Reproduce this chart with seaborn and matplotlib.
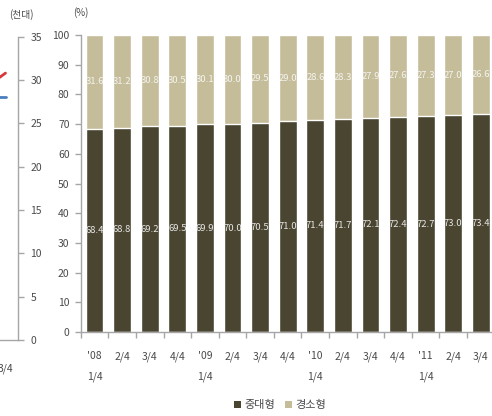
import matplotlib
matplotlib.use("Agg")
import matplotlib.pyplot as plt
from matplotlib.patches import Patch
from matplotlib.ticker import FixedLocator
import seaborn as sns
import pandas as pd

# Quarterly share of passenger cars by size class (%)
quarters = ["'08\n1/4", "2/4", "3/4", "4/4", "'09\n1/4", "2/4", "3/4", "4/4",
            "'10\n1/4", "2/4", "3/4", "4/4", "'11\n1/4", "2/4", "3/4"]
mid_large = [68.4, 68.8, 69.2, 69.5, 69.9, 70.0, 70.5, 71.0,
             71.4, 71.7, 72.1, 72.4, 72.7, 73.0, 73.4]
light_small = [31.6, 31.2, 30.8, 30.5, 30.1, 30.0, 29.5, 29.0,
               28.6, 28.3, 27.9, 27.6, 27.3, 27.0, 26.6]
series_names = ["중대형", "경소형"]

# Tail of the neighbouring panel (thousand units)
left_quarters = ["2/4", "3/4"]
left_red = [28.7, 30.8]
left_blue = [28.0, 28.0]
left_ticks = [0, 5, 10, 15, 20, 25, 30, 35]

DARK = "#4a4530"
TAN = "#c5bd9a"
AXIS = "#a6a6a6"
TXT = "#4a4a4a"

sns.set_theme(style="white")
plt.rcParams["font.family"] = ["Noto Sans CJK KR", "DejaVu Sans"]

W, H = 492, 416
fig = plt.figure(figsize=(W / 100, H / 100), dpi=100)
fig.patch.set_facecolor("white")

def px_box(x0, y_top, x1, y_bot):
    return [x0 / W, 1 - y_bot / H, (x1 - x0) / W, (y_bot - y_top) / H]

# ---- main stacked 100% bar chart ----
ax = fig.add_axes(px_box(80.7, 35, 494.7, 332))
df = pd.DataFrame({
    "q": range(len(quarters)),
    "total": [a + b for a, b in zip(mid_large, light_small)],
    "mid": mid_large,
})
sns.barplot(data=df, x="q", y="total", color=TAN, saturation=1, width=0.64,
            ax=ax, native_scale=False)
sns.barplot(data=df, x="q", y="mid", color=DARK, saturation=1, width=0.64,
            ax=ax, native_scale=False)

for i, (m, s) in enumerate(zip(mid_large, light_small)):
    ax.text(i, m / 2, f"{m:.1f}", ha="center", va="center",
            fontsize=6.8, color="#e6e6e6")
    ax.text(i, m + s / 2, f"{s:.1f}", ha="center", va="center",
            fontsize=6.8, color="#f4f4f0")

ax.set_xlim(-0.5, len(quarters) - 0.5)
ax.set_ylim(0, 100)
ax.set_yticks(range(0, 101, 10))
ax.set_xticks(range(len(quarters)))
ax.set_xticklabels(quarters, linespacing=2.3)
ax.xaxis.set_minor_locator(FixedLocator([i + 0.5 for i in range(-1, len(quarters))]))
ax.set_xlabel("")
ax.set_ylabel("")
for side in ["top", "right"]:
    ax.spines[side].set_visible(False)
for side in ["left", "bottom"]:
    ax.spines[side].set_color(AXIS)
    ax.spines[side].set_linewidth(1)
ax.tick_params(axis="y", which="major", direction="out", length=4, width=1,
               color=AXIS, pad=4, labelsize=7.5, labelcolor=TXT, left=True)
ax.tick_params(axis="x", which="major", length=0, pad=14, labelsize=7.5,
               labelcolor=TXT)
ax.tick_params(axis="x", which="minor", direction="out", length=4, width=1,
               color=AXIS, bottom=True)
for lbl in ax.get_xticklabels():
    lbl.set_verticalalignment("top")
ax.set_facecolor("white")
ax.grid(False)

fig.text(81 / W, 1 - 13 / H, "(%)", ha="center", va="center",
         fontsize=7, color=TXT)

# ---- edge of the neighbouring line chart ----
axl = fig.add_axes(px_box(-32, 36.7, 18, 340))
lx = list(range(len(left_quarters)))
sns.lineplot(x=lx, y=left_red, color="#d8383c", linewidth=2, ax=axl)
sns.lineplot(x=lx, y=left_blue, color="#4a7ebf", linewidth=2, ax=axl)
axl.set_xlim(-0.5, len(left_quarters) - 0.5)
axl.set_ylim(0, 35)
axl.set_xticks(lx)
axl.set_xticklabels(left_quarters)
axl.set_yticks(left_ticks)
axl.yaxis.tick_right()
for side in ["top", "left"]:
    axl.spines[side].set_visible(False)
for side in ["right", "bottom"]:
    axl.spines[side].set_color(AXIS)
    axl.spines[side].set_linewidth(1)
axl.tick_params(axis="y", direction="out", length=4, width=1, color=AXIS,
                pad=5, labelsize=7.5, labelcolor=TXT, right=True)
axl.tick_params(axis="x", length=0, pad=17, labelsize=7.5, labelcolor=TXT)
axl.set_facecolor("none")
axl.grid(False)

fig.text(21 / W, 1 - 15 / H, "(천대)", ha="center", va="center",
         fontsize=7, color=TXT)

# ---- legend ----
handles = [Patch(facecolor=DARK, edgecolor="none"),
           Patch(facecolor=TAN, edgecolor="none")]
fig.legend(handles, series_names, loc="center", ncol=2,
           bbox_to_anchor=(280 / W, 1 - 405 / H), frameon=False,
           handlelength=0.6, handleheight=0.6, handletextpad=0.3,
           columnspacing=0.9, fontsize=8, labelcolor=TXT)

fig.savefig("out.png", dpi=100, facecolor="white")
